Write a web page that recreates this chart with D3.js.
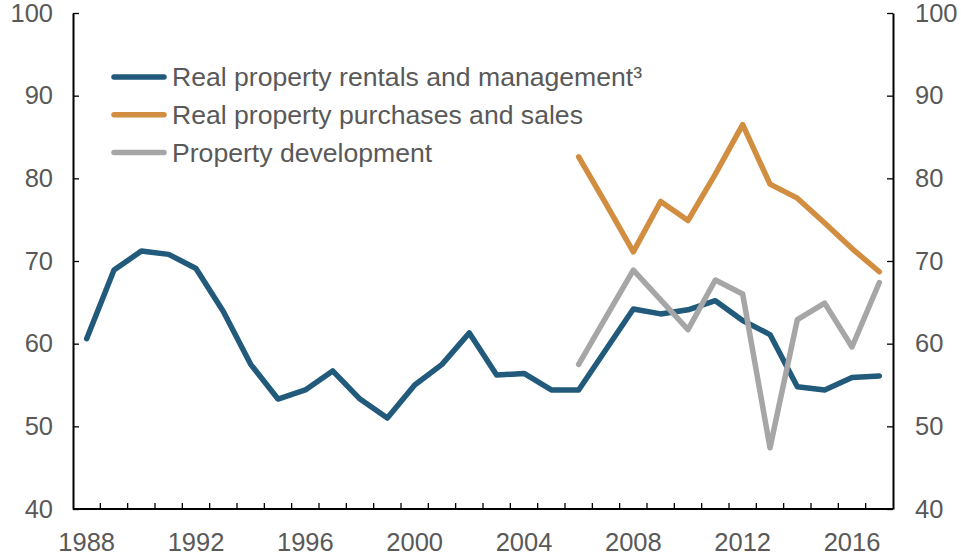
<!DOCTYPE html>
<html>
<head>
<meta charset="utf-8">
<script src="https://cdn.jsdelivr.net/npm/d3@7"></script>
<style>
  body { margin: 0; background: #fff; }
  svg text { font-family: "Liberation Sans", Arial, sans-serif; fill: #595959; }
</style>
</head>
<body>
<div id="chart"></div>
<script>
// data
var years = d3.range(1988, 2018);
var rentals = [60.6, 68.9, 71.2, 70.8, 69.1, 63.9, 57.5, 53.3, 54.4, 56.7,
               53.3, 51.0, 55.0, 57.5, 61.3, 56.2, 56.4, 54.4, 54.4, 59.3,
               64.2, 63.6, 64.1, 65.2, 62.8, 61.1, 54.8, 54.4, 55.9, 56.1];
var salesYears = d3.range(2006, 2018);
var sales = [82.6, 76.9, 71.1, 77.2, 74.9, 80.5, 86.5, 79.3, 77.6, 74.6, 71.5, 68.7];
var devel = [57.5, 63.2, 68.9, 65.3, 61.7, 67.7, 66.0, 47.4, 62.9, 64.9, 59.6, 67.4];
var yTicks = [40, 50, 60, 70, 80, 90, 100];
var xLabels = [1988, 1992, 1996, 2000, 2004, 2008, 2012, 2016];

var series = [
  {name: "Real property rentals and management\u00b3", color: "#215A7B",
   values: years.map((y, i) => ({year: y, v: rentals[i]}))},
  {name: "Real property purchases and sales", color: "#D18D40",
   values: salesYears.map((y, i) => ({year: y, v: sales[i]}))},
  {name: "Property development", color: "#A6A6A6",
   values: salesYears.map((y, i) => ({year: y, v: devel[i]}))}
];

var width = 961, height = 555;
var margin = {top: 13, right: 68, bottom: 46, left: 73};
var fontSize = "25.5px";

var svg = d3.select("#chart").append("svg")
    .attr("width", width)
    .attr("height", height);

var x = d3.scaleBand()
    .domain(years)
    .range([margin.left, width - margin.right]);

var y = d3.scaleLinear()
    .domain([40, 100])
    .range([height - margin.bottom, margin.top]);

// left axis
var left = svg.append("g")
    .attr("transform", "translate(" + margin.left + ",0)")
    .call(d3.axisLeft(y).tickValues(yTicks).tickSizeInner(-6).tickSizeOuter(0).tickPadding(20));
// right axis
var right = svg.append("g")
    .attr("transform", "translate(" + (width - margin.right) + ",0)")
    .call(d3.axisRight(y).tickValues(yTicks).tickSizeInner(-6).tickSizeOuter(0).tickPadding(22));
// bottom axis: ticks between the years
var bottom = svg.append("g")
    .attr("transform", "translate(0," + (height - margin.bottom) + ")");
bottom.append("line")
    .attr("x1", margin.left).attr("x2", width - margin.right)
    .attr("stroke", "#000").attr("stroke-width", 2);
bottom.selectAll(".tk")
    .data(years.slice(1))
    .enter().append("line")
    .attr("x1", d => x(d)).attr("x2", d => x(d))
    .attr("y1", 0).attr("y2", -6)
    .attr("stroke", "#000").attr("stroke-width", 1.3);
bottom.selectAll(".lbl")
    .data(xLabels)
    .enter().append("text")
    .attr("x", d => x(d) + x.bandwidth() / 2)
    .attr("y", 42)
    .attr("text-anchor", "middle")
    .style("font-size", fontSize)
    .text(d => d);

[left, right].forEach(g => {
  g.select(".domain").attr("stroke", "#000").attr("stroke-width", 2);
  g.selectAll(".tick line").attr("stroke", "#000").attr("stroke-width", 1.3);
  g.selectAll(".tick text").style("font-size", fontSize).attr("fill", "#595959");
});

var line = d3.line()
    .x(d => x(d.year) + x.bandwidth() / 2)
    .y(d => y(d.v));

svg.selectAll(".series")
  .data(series)
  .enter().append("path")
    .attr("d", d => line(d.values))
    .attr("fill", "none")
    .attr("stroke", d => d.color)
    .attr("stroke-width", 5.5)
    .attr("stroke-linecap", "round")
    .attr("stroke-linejoin", "round");

// legend
var legend = svg.selectAll(".leg")
  .data(series)
  .enter().append("g")
    .attr("transform", (d, i) => "translate(114," + (77 + i * 37.8) + ")");
legend.append("line")
    .attr("x1", 0).attr("x2", 50)
    .attr("stroke", d => d.color)
    .attr("stroke-width", 5.5)
    .attr("stroke-linecap", "round");
legend.append("text")
    .attr("x", 58)
    .attr("y", 9)
    .style("font-size", "26.6px")
    .text(d => d.name);
</script>
</body>
</html>
